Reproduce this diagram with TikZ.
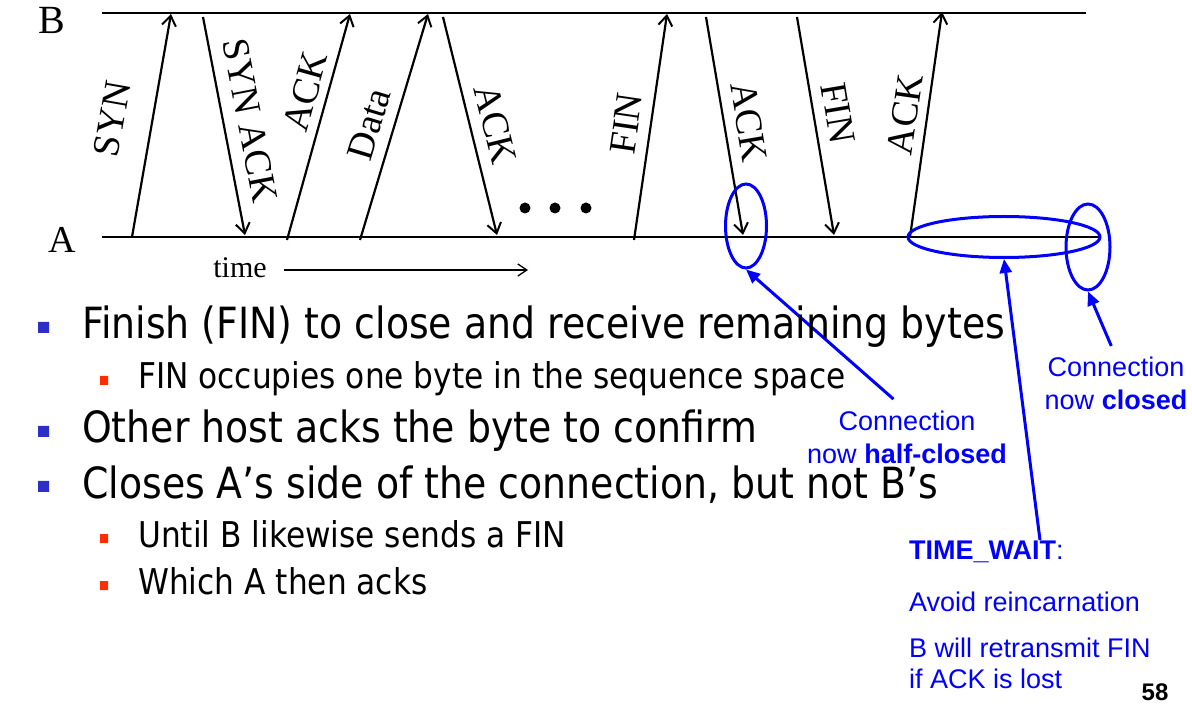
\documentclass[tikz,border=0pt]{standalone}
\usepackage{fontspec}
\setmainfont{Liberation Serif}
\newfontfamily\arialfont{Liberation Sans}
\newfontfamily\tahomafont[FakeStretch=0.88]{DejaVu Sans}
\usetikzlibrary{arrows.meta, shapes.geometric}
\definecolor{callblue}{RGB}{0,0,255}
\definecolor{bulletblue}{RGB}{45,45,200}
\definecolor{bulletred}{RGB}{255,45,0}
\tikzset{
  msg/.style={line width=2.2pt, -{Straight Barb[length=10pt,width=14pt,line width=2pt]}},
  msglabel/.style={sloped, above, font=\fontsize{38}{42}\selectfont, inner sep=11pt},
  hostline/.style={line width=1.3pt},
  callout/.style={callblue, line width=3pt, -{Triangle[length=14pt,width=12pt]}},
  ring/.style={ellipse, draw=callblue, line width=3pt, inner sep=0pt},
  note/.style={text=callblue, font=\arialfont\fontsize{27}{33}\selectfont, inner sep=0pt},
  bigtext/.style={font=\tahomafont\fontsize{43}{47}\selectfont, anchor=base west, inner sep=0pt},
  smalltext/.style={font=\tahomafont\fontsize{35.5}{39}\selectfont, anchor=base west, inner sep=0pt},
}

\begin{document}
\begin{tikzpicture}[x=1pt, y=-1pt]
  \useasboundingbox (0,0) rectangle (1192,708);

  % Hosts
  \node[font=\fontsize{40}{44}\selectfont] (hostB) at (52,20) {B};
  \node[font=\fontsize{38}{42}\selectfont] (hostA) at (62,240) {A};
  \coordinate (Bstart) at (102,13);
  \coordinate (Bend) at (1086,13);
  \coordinate (Astart) at (102,237);
  \coordinate (Aend) at (1100,237);
  \draw[hostline] (Bstart) -- (Bend);
  \draw[hostline] (Astart) -- (Aend);

  % Handshake
  \coordinate (synA) at (132,237);     \coordinate (synB) at (171,14);
  \coordinate (synackB) at (203,17);   \coordinate (synackA) at (245,235);
  \coordinate (ackA) at (287,240);     \coordinate (ackB) at (350,14);
  \draw[msg] (synA) -- node[msglabel, inner sep=26pt] (lblsyn) {SYN} (synB);
  \draw[msg] (synackB) -- node[msglabel, inner sep=13pt] (lblsynack) {SYN ACK} (synackA);
  \draw[msg] (ackA) -- node[msglabel, pos=0.63, inner sep=8pt] (lblack) {ACK} (ackB);

  % Data
  \coordinate (dataA) at (360,240);    \coordinate (dataB) at (428,14);
  \coordinate (dackB) at (443,17);     \coordinate (dackA) at (497,235);
  \draw[msg] (dataA) -- node[msglabel, pos=0.48] (lbldata) {Data} (dataB);
  \draw[msg] (dackB) -- node[msglabel, pos=0.52] (lbldack) {ACK} (dackA);
  \fill (525,208) circle (5.5) (555,208) circle (5.5) (586,208) circle (5.5);

  % Teardown
  \coordinate (finA) at (634,240);     \coordinate (finB) at (667,14);
  \coordinate (fackB) at (706,17);     \coordinate (fackA) at (743,235);
  \coordinate (finbB) at (797,17);     \coordinate (finbA) at (834,235);
  \coordinate (lastA) at (910,237);    \coordinate (lastB) at (942,12);
  \draw[msg] (finA) -- node[msglabel] (lblfin) {FIN} (finB);
  \draw[msg] (fackB) -- node[msglabel] (lblfack) {ACK} (fackA);
  \draw[msg] (finbB) -- node[msglabel, pos=0.46] (lblfinb) {FIN} (finbA);
  \draw[msg] (lastA) -- node[msglabel, pos=0.53, inner sep=8pt] (lbllast) {ACK} (lastB);

  % Time axis
  \node[font=\fontsize{30}{34}\selectfont] (time) at (240,268) {time};
  \coordinate (tend) at (528,270);
  \draw[line width=1.3pt, -{Straight Barb[length=9pt,width=12pt]}] (time.east) ++(14,2) -- (tend);

  % Callouts
  \node[ring, minimum width=41, minimum height=84] (halfring) at (746,226) {};
  \node[ring, minimum width=192, minimum height=41] (waitring) at (1004,237) {};
  \node[ring, minimum width=44, minimum height=86] (closering) at (1088,247) {};
  \node[note, align=center, anchor=north] (halfnote) at (907,411) {Connection\\now \textbf{half-closed}};
  \node[note, align=center, anchor=north] (closenote) at (1116,357) {Connection\\now \textbf{closed}};
  \node[note, align=left, anchor=north west, font=\arialfont\fontsize{27}{31}\selectfont] (waitnote) at (909,541)
    {\textbf{TIME\_WAIT}:\\[21pt]Avoid reincarnation\\[15pt]B will retransmit FIN\\if ACK is lost};
  \coordinate (waittail) at (1040,540);
  \draw[callout, shorten <=18pt] (halfnote.north) -- (halfring.south);
  \draw[callout] (waittail) -- (waitring.south);
  \draw[callout, shorten <=12pt] (closenote.north) -- (closering.south);

  % Bullets
  \fill[bulletblue] (38,322) rectangle (49,333) (38,426) rectangle (49,437) (38,481) rectangle (49,492);
  \fill[bulletred] (100,376) rectangle (108,385) (100,534) rectangle (108,543) (100,581) rectangle (108,590);
  \node[bigtext] (item1) at (82,339) {Finish (FIN) to close and receive remaining bytes};
  \node[smalltext] (item1a) at (138,389) {FIN occupies one byte in the sequence space};
  \node[bigtext] (item2) at (82,443) {Other host acks the byte to confirm};
  \node[bigtext] (item3) at (82,498) {Closes A’s side of the connection, but not B’s};
  \node[smalltext] (item3a) at (138,547) {Until B likewise sends a FIN};
  \node[smalltext] (item3b) at (138,594) {Which A then acks};

  % Page number
  \node[font=\arialfont\bfseries\fontsize{24}{28}\selectfont] (pagenum) at (1155,692) {58};
\end{tikzpicture}
\end{document}
